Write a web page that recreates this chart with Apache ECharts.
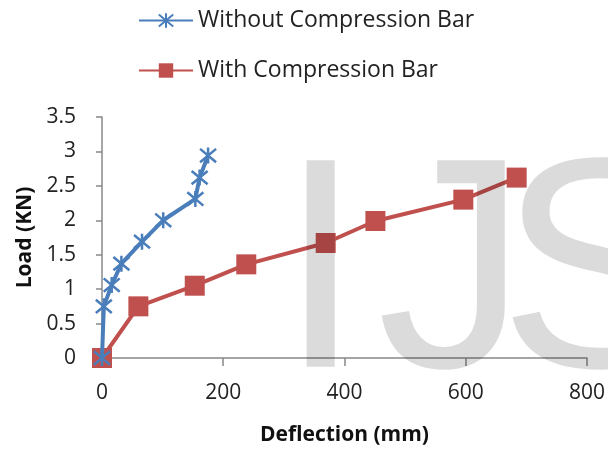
<!DOCTYPE html>
<html>
<head>
<meta charset="utf-8">
<script src="https://cdn.jsdelivr.net/npm/echarts@6/dist/echarts.min.js"></script>
<style>
  html, body { margin: 0; padding: 0; background: #fff; }
  #chart { width: 608px; height: 451px; }
</style>
</head>
<body>
<div id="chart"></div>
<script>
// deflection (mm) / load (KN)
let withoutX = [0, 3, 16, 32, 66, 101, 154, 161, 175];
let withoutY = [0, 0.75, 1.06, 1.37, 1.69, 2.0, 2.31, 2.62, 2.94];
let withX = [0, 60, 153, 238, 369, 451, 596, 684];
let withY = [0, 0.75, 1.05, 1.36, 1.67, 1.99, 2.3, 2.62];
let seriesNames = ['Without Compression Bar', 'With Compression Bar'];

function pairs(xs, ys) {
    let out = [];
    for (let i = 0; i < xs.length; i++) out.push([xs[i], ys[i]]);
    return out;
}

let starPath = 'path://M0,0L10,10M10,0L0,10M5,-1L5,11';
let fontName = '"Open Sans", sans-serif';
let wmFont = '300px "Liberation Sans", Arial, sans-serif';
let wmFill = 'rgba(0,0,0,0.14)';

let chart = echarts.init(document.getElementById('chart'));
let option = {
    animation: false,
    backgroundColor: '#fff',
    legend: {
        orient: 'vertical',
        left: 133,
        top: 4,
        itemGap: 27,
        itemWidth: 54,
        itemHeight: 18,
        textStyle: { fontFamily: fontName, fontSize: 23, color: '#222' },
        data: seriesNames
    },
    grid: { left: 102, right: 21, top: 117, bottom: 91 },
    xAxis: {
        type: 'value',
        min: 0, max: 800, interval: 200,
        name: 'Deflection (mm)',
        nameLocation: 'middle',
        nameGap: 67,
        nameTextStyle: { fontFamily: fontName, fontSize: 21, fontWeight: 'bold', color: '#111' },
        axisLine: { lineStyle: { color: '#888', width: 1.5 } },
        axisTick: { length: 8, lineStyle: { color: '#888', width: 1.5 } },
        axisLabel: { fontFamily: fontName, fontSize: 21, color: '#222', margin: 25 },
        splitLine: { show: false }
    },
    yAxis: {
        type: 'value',
        min: 0, max: 3.5, interval: 0.5,
        name: 'Load (KN)',
        nameLocation: 'middle',
        nameGap: 64,
        nameTextStyle: { fontFamily: fontName, fontSize: 21, fontWeight: 'bold', color: '#111' },
        axisLine: { show: true, lineStyle: { color: '#888', width: 1.5 } },
        axisTick: { show: true, length: 6, lineStyle: { color: '#888', width: 1.5 } },
        axisLabel: { fontFamily: fontName, fontSize: 21, color: '#222', margin: 26 },
        splitLine: { show: false }
    },
    series: [
        {
            name: seriesNames[0],
            type: 'line',
            data: pairs(withoutX, withoutY),
            symbol: starPath,
            symbolSize: 16,
            lineStyle: { color: '#4a7ebb', width: 4 },
            itemStyle: { color: 'rgba(0,0,0,0)', borderColor: '#4a7ebb', borderWidth: 2.5 },
            z: 3
        },
        {
            name: seriesNames[1],
            type: 'line',
            data: pairs(withX, withY),
            symbol: 'rect',
            symbolSize: 20,
            lineStyle: { color: '#c0504d', width: 4 },
            itemStyle: { color: '#c0504d', borderWidth: 0 },
            z: 2
        }
    ],
    // faint "IJS" watermark laid over the plot
    graphic: [
        { type: 'text', left: 279, top: 134, z: 100, silent: true,
          style: { text: 'I', font: wmFont, fill: wmFill } },
        { type: 'text', left: 377, top: 134, z: 100, silent: true,
          style: { text: 'J', font: wmFont, fill: wmFill } },
        { type: 'text', left: 499, top: 134, z: 100, silent: true,
          style: { text: 'S', font: wmFont, fill: wmFill } }
    ]
};
chart.setOption(option);
</script>
</body>
</html>
